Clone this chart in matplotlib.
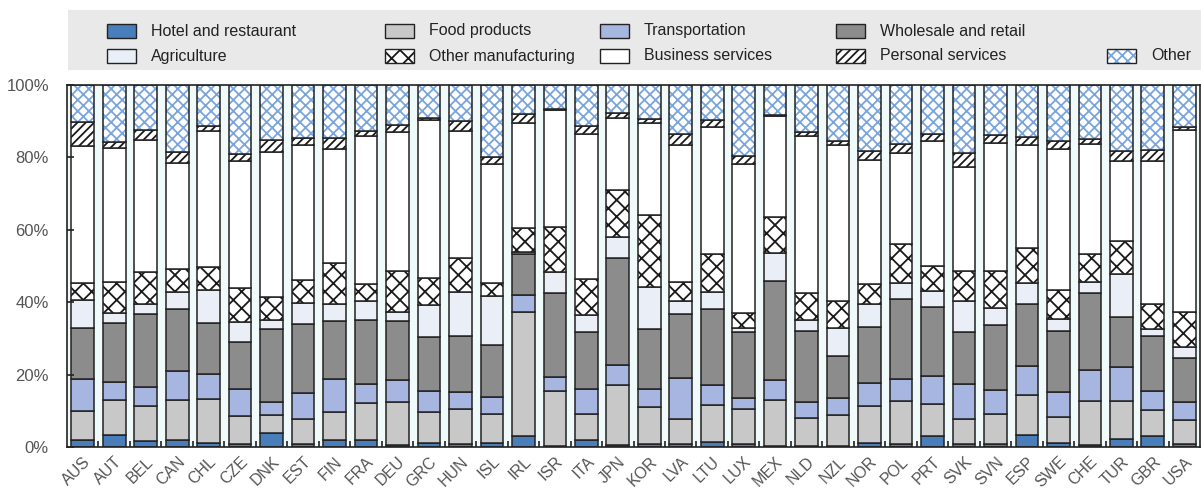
import numpy as np
import matplotlib
matplotlib.use("Agg")
import matplotlib.pyplot as plt
from matplotlib.patches import Rectangle

plt.rcParams['font.family'] = ['Liberation Sans', 'DejaVu Sans']
plt.rcParams['hatch.linewidth'] = 1.3

countries = ["AUS", "AUT", "BEL", "CAN", "CHL", "CZE", "DNK", "EST", "FIN", "FRA", "DEU",
             "GRC", "HUN", "ISL", "IRL", "ISR", "ITA", "JPN", "KOR", "LVA", "LTU", "LUX",
             "MEX", "NLD", "NZL", "NOR", "POL", "PRT", "SVK", "SVN", "ESP", "SWE", "CHE",
             "TUR", "GBR", "USA"]

hotel = [1.8, 3.2, 1.6, 1.8, 1.2, 0.9, 4.0, 0.9, 1.8, 1.8, 0.5,
         1.1, 0.7, 1.2, 3.0, 0.2, 2.0, 0.6, 0.7, 0.9, 1.4, 0.7,
         0.2, 0.3, 0.3, 1.2, 0.7, 3.1, 0.9, 0.9, 3.4, 1.2, 0.6,
         2.2, 3.1, 0.9]
food = [8.1, 9.9, 9.7, 11.1, 12.1, 7.6, 4.8, 6.9, 7.9, 10.4, 11.9,
        8.5, 9.7, 7.8, 34.4, 15.2, 7.2, 16.6, 10.4, 6.9, 10.3, 9.9,
        12.9, 7.7, 8.5, 10.1, 11.9, 8.7, 6.9, 8.1, 11.1, 7.1, 12.0,
        10.4, 7.1, 6.5]
transport = [8.8, 4.8, 5.3, 8.1, 6.8, 7.5, 3.5, 7.0, 9.0, 5.3, 6.1,
             6.0, 4.9, 4.9, 4.5, 4.0, 6.9, 5.4, 4.8, 11.3, 5.4, 3.0,
             5.4, 4.3, 4.8, 6.4, 6.1, 7.8, 9.7, 6.7, 8.0, 6.8, 8.8,
             9.6, 5.3, 4.9]
wholesale = [14.3, 16.3, 20.1, 17.2, 14.2, 12.9, 20.4, 19.1, 16.2, 17.6, 16.4,
             14.7, 15.4, 14.2, 11.3, 23.1, 15.7, 29.5, 16.8, 17.6, 21.1, 18.1,
             27.3, 19.8, 11.5, 15.4, 22.2, 19.0, 14.2, 17.9, 17.0, 17.0, 21.1,
             13.6, 15.2, 12.4]
agriculture = [7.6, 2.9, 2.7, 4.7, 9.1, 5.5, 2.4, 6.0, 4.5, 5.2, 2.4,
               8.9, 12.1, 13.7, 0.7, 5.9, 4.6, 5.9, 11.5, 3.5, 4.5, 1.1,
               7.8, 3.0, 7.7, 6.4, 4.3, 4.4, 8.7, 4.9, 5.7, 3.2, 3.1,
               12.0, 1.8, 2.8]
other_manuf = [4.6, 8.5, 8.9, 6.4, 6.2, 9.4, 6.4, 6.1, 11.4, 4.6, 11.4,
               7.4, 9.4, 3.4, 6.5, 12.4, 10.1, 13.0, 19.9, 5.4, 10.6, 4.3,
               9.9, 7.4, 7.5, 5.6, 10.9, 6.9, 8.3, 10.2, 9.7, 8.1, 7.8,
               9.0, 6.9, 9.9]
business = [37.9, 36.9, 36.6, 29.2, 37.7, 35.1, 39.9, 37.5, 31.4, 41.0, 38.3,
            43.6, 35.1, 33.0, 29.0, 32.2, 40.1, 20.0, 25.3, 37.9, 35.2, 41.0,
            27.9, 43.4, 43.0, 34.1, 25.2, 34.6, 28.7, 35.3, 28.6, 39.0, 30.4,
            22.2, 39.5, 50.3]
personal = [6.7, 1.8, 2.6, 3.0, 1.3, 1.9, 3.3, 1.8, 3.2, 1.5, 2.0,
            0.6, 2.8, 1.9, 2.7, 0.5, 2.0, 1.3, 1.1, 3.0, 1.8, 2.2,
            0.3, 1.1, 1.1, 2.5, 2.3, 1.9, 3.7, 2.1, 2.1, 2.0, 1.3,
            2.9, 3.2, 0.7]

series = [hotel, food, transport, wholesale, agriculture, other_manuf, business, personal]
# "Other" fills the rest up to 100%
other = list(100 - np.sum(series, axis=0))

labels = ["Hotel and restaurant", "Food products", "Transportation", "Wholesale and retail",
          "Agriculture", "Other manufacturing", "Business services", "Personal services", "Other"]
fills = ["#4a7ebb", "#c8c8c8", "#a6b6e1", "#8c8c8c", "#eaeef7", "white", "white", "white", "white"]
hatches = [None, None, None, None, None, "xx", None, "////", "xxx"]
hatch_cols = [None, None, None, None, None, "#1a1a1a", None, "#1a1a1a", "#7aa5dc"]

edge = "#222222"
fig = plt.figure(figsize=(12.01, 4.91), dpi=100)
ax = fig.add_axes([0.0558, 0.0896, 0.9434, 0.7373])
ax.set_facecolor("#f1fafb")

x = np.arange(len(countries))
w = 0.72
bottom = np.zeros(len(countries))
for vals, fc, h, hc in zip(series + [other], fills, hatches, hatch_cols):
    vals = np.array(vals)
    ax.bar(x, vals, w, bottom=bottom, color=fc, linewidth=0)
    if h:
        ax.bar(x, vals, w, bottom=bottom, fill=False, hatch=h, edgecolor=hc, linewidth=0)
    ax.bar(x, vals, w, bottom=bottom, fill=False, edgecolor=edge, linewidth=1.1)
    bottom += vals

ax.set_xlim(-0.5, len(countries) - 0.5)
ax.set_ylim(0, 100)
ax.set_yticks(range(0, 101, 20))
ax.set_yticklabels([f"{v}%" for v in range(0, 101, 20)])
ax.tick_params(axis='y', direction='in', length=5, width=1.2, pad=13, colors=edge,
               labelcolor="#555555", labelsize=12)
ax.set_xticks(x)
ax.set_xticklabels(countries, rotation=45, ha='right', va='top', rotation_mode='anchor')
ax.tick_params(axis='x', length=0, pad=5, labelcolor="#555555", labelsize=11.5)
ax.set_xticks(x[:-1] + 0.5, minor=True)
ax.tick_params(axis='x', which='minor', direction='in', length=4, width=1.2, color=edge)
for s in ax.spines.values():
    s.set_color(edge)
    s.set_linewidth(1.2)

# legend panel
fig.patches.append(Rectangle((0.0566, 0.857), 0.9434, 0.122, transform=fig.transFigure,
                             facecolor="#e9e9e9", edgecolor="none", zorder=0))
col_x = [107, 385, 600, 836, 1107]
row_y = [31, 56]
slots = [(0, 0), (1, 0), (2, 0), (3, 0), (0, 1), (1, 1), (2, 1), (3, 1), (4, 1)]
W, H = 1201.0, 491.0
for (c, r), lab, fc, h, hc in zip(slots, labels, fills, hatches, hatch_cols):
    hx, hy = col_x[c], row_y[r]
    if h:
        fig.patches.append(Rectangle((hx / W, 1 - (hy + 7) / H), 29 / W, 14 / H,
                                     transform=fig.transFigure, facecolor="white",
                                     edgecolor=hc, hatch=h, linewidth=0, zorder=2))
        fig.patches.append(Rectangle((hx / W, 1 - (hy + 7) / H), 29 / W, 14 / H,
                                     transform=fig.transFigure, fill=False,
                                     edgecolor=edge, linewidth=1, zorder=3))
    else:
        fig.patches.append(Rectangle((hx / W, 1 - (hy + 7) / H), 29 / W, 14 / H,
                                     transform=fig.transFigure, facecolor=fc,
                                     edgecolor=edge, linewidth=1, zorder=2))
    fig.text((hx + 44) / W, 1 - hy / H, lab, fontsize=11.5, color="#222222",
             ha='left', va='center')

fig.savefig("out.png", dpi=100)
